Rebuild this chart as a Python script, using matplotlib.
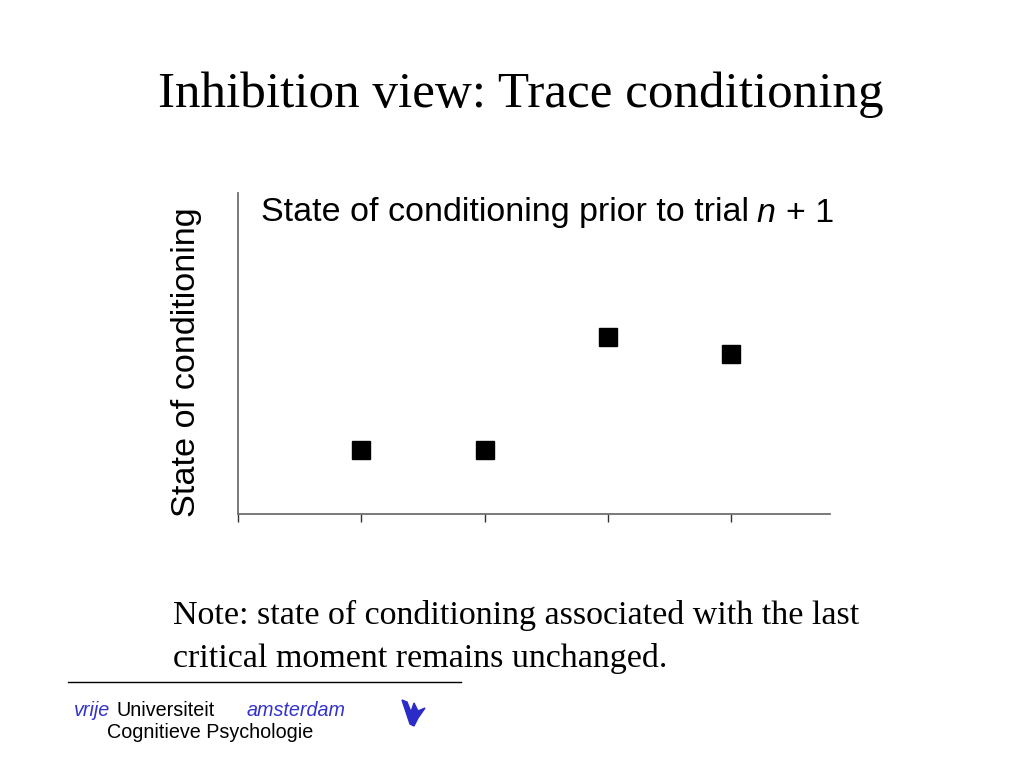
import matplotlib
matplotlib.use("Agg")
import matplotlib.pyplot as plt
from matplotlib.patches import Polygon

# Data
trials = [1, 2, 3, 4]
state = [2.0, 2.0, 5.5, 5.0]
x_max = 4.8
y_max = 10.0

title = "Inhibition view: Trace conditioning"
ylabel = "State of conditioning"
note_lines = ["Note: state of conditioning associated with the last",
              "critical moment remains unchanged."]

fig = plt.figure(figsize=(10.24, 7.68), dpi=100)
fig.patch.set_facecolor("white")

ax = fig.add_axes([238/1024, 1-514/768, (830-238)/1024, (514-193)/768])
ax.plot(trials, state, linestyle="none", marker="s", markersize=13,
        color="black", clip_on=False)
ax.set_xlim(0, x_max)
ax.set_ylim(0, y_max)
ax.set_xticks([0, 1, 2, 3, 4])
ax.set_xticklabels([])
ax.set_yticks([])
for s in ["top", "right"]:
    ax.spines[s].set_visible(False)
for s in ["left", "bottom"]:
    ax.spines[s].set_color("#707070")
    ax.spines[s].set_linewidth(1.3)
ax.tick_params(axis="x", direction="out", length=6, width=1.0, color="#333333")

fig.text(521/1024, 1-95/768, title, fontsize=36.8, family="Liberation Serif",
         ha="center", va="center")

# inner title with italic n
fig.text(261/1024, 1-213/768, "State of conditioning prior to trial", fontsize=24.5,
         family="Liberation Sans", ha="left", va="center")
fig.text(756/1024, 1-213/768, "n", fontsize=24.5, family="Liberation Sans",
         style="italic", ha="left", va="center")
fig.text(786/1024, 1-213/768, "+ 1", fontsize=24.5, family="Liberation Sans",
         ha="left", va="center")

fig.text(187/1024, 1-362/768, ylabel, fontsize=24.7, family="Liberation Sans",
         rotation=90, ha="center", va="center")

fig.text(173/1024, 1-615/768, note_lines[0],
         fontsize=24.5, family="Liberation Serif", ha="left", va="center")
fig.text(173/1024, 1-658/768, note_lines[1],
         fontsize=24.5, family="Liberation Serif", ha="left", va="center")

# footer
fig.add_artist(plt.Line2D([68/1024, 461/1024], [1-682/768, 1-682/768],
                          color="black", linewidth=1.0))
blue = "#3333cc"
fig.text(74/1024, 1-710/768, "vrije", fontsize=14.2, family="Liberation Sans",
         style="italic", color=blue, ha="left", va="center")
fig.text(116/1024, 1-710/768, "Universiteit", fontsize=14.2, family="Liberation Sans",
         color="black", ha="left", va="center")
fig.text(247/1024, 1-710/768, "amsterdam", fontsize=14.2, family="Liberation Sans",
         style="italic", color=blue, ha="left", va="center")
fig.text(107/1024, 1-733/768, "Cognitieve Psychologie", fontsize=14.2,
         family="Liberation Sans", color="black", ha="left", va="center")

# small logo
pts = [(402, 700), (406, 712), (410, 724), (414, 726), (418, 718), (425, 708),
       (418, 711), (414, 703), (411, 712), (407, 702)]
logo = Polygon([(x/1024, 1-y/768) for x, y in pts], closed=True,
               facecolor="#2b2bc8", edgecolor="#2b2bc8", transform=fig.transFigure)
fig.add_artist(logo)

fig.savefig("out.png", dpi=100, facecolor="white")
